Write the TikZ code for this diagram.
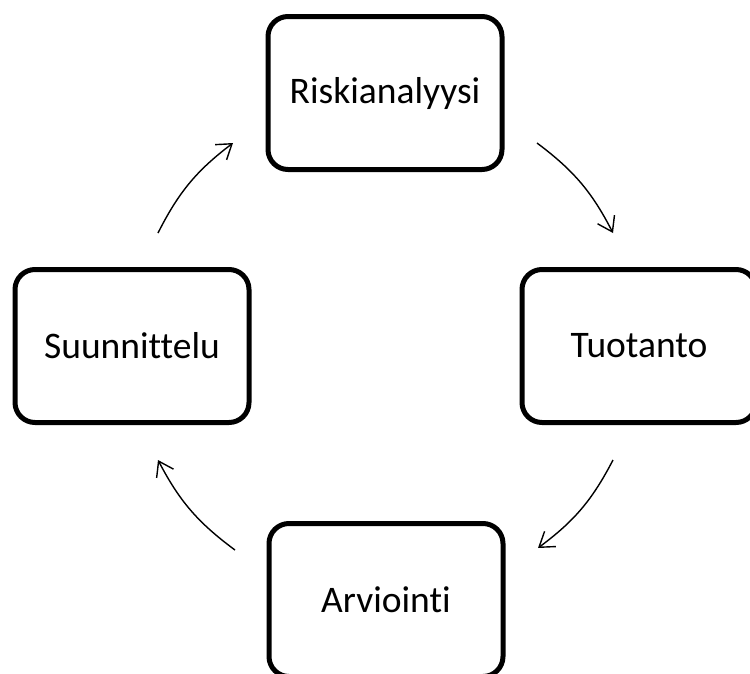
\documentclass[tikz,border=0pt]{standalone}
\usepackage{fontspec}
\setmainfont{Carlito}[Ligatures={NoCommon}]
\usetikzlibrary{arrows.meta}
\begin{document}
\begin{tikzpicture}[x=1pt,y=-1pt,
  phase/.style={draw=black,line width=5pt,rounded corners=20pt,
    minimum width=234pt,minimum height=153pt,inner sep=0pt,
    font=\fontsize{37.5}{42}\selectfont},
  cycle/.style={line width=1.4pt,-{Straight Barb[length=14pt,width=19pt,line width=1.4pt]}},
]
\useasboundingbox (0,0) rectangle (750,673);
\clip (0,0) rectangle (750,673);

% the four phases of the cycle
\node[phase] (risk) at (385,93)  {Riskianalyysi};
\node[phase] (prod) at (639,346) {Tuotanto};
\node[phase] (plan) at (132,346) {Suunnittelu};
\node[phase] (eval) at (386,600) {Arviointi};

% arc ends between neighbouring phases
\coordinate (r1) at (537,143);
\coordinate (r2) at (613,233);
\coordinate (p1) at (613,460);
\coordinate (p2) at (538,548);
\coordinate (e1) at (235,550);
\coordinate (e2) at (158,460);
\coordinate (s1) at (158,233);
\coordinate (s2) at (233,143);

% clockwise arrows
\draw[cycle] (r1) to[bend left=13] (r2);
\draw[cycle] (p1) to[bend left=13] (p2);
\draw[cycle] (e1) to[bend left=13] (e2);
\draw[cycle] (s1) to[bend left=13] (s2);
\end{tikzpicture}
\end{document}
